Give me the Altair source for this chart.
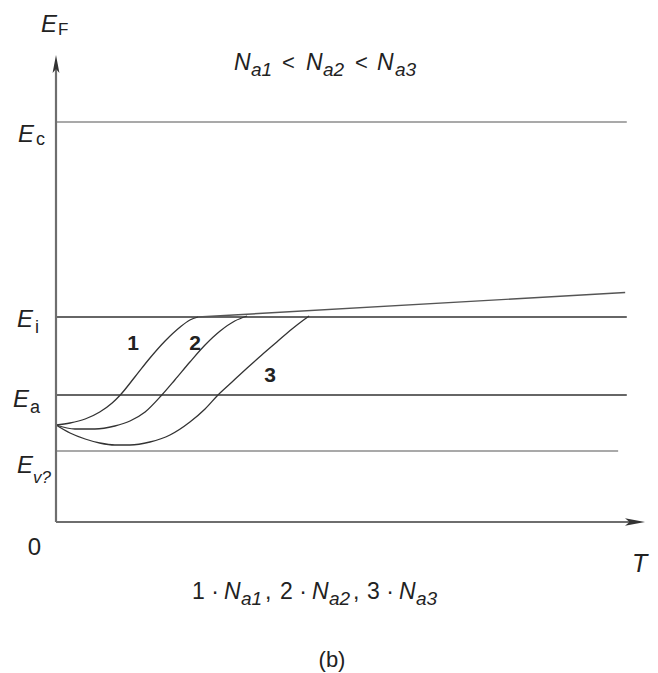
import altair as alt
import pandas as pd

# ---------------- data (T and E in arbitrary units) ----------------
curve1_T = [0, 0.26, 0.54, 0.81, 1.04, 1.19, 1.46, 1.74, 2.02, 2.30, 2.48, 2.63]
curve1_E = [1.94, 1.98, 2.06, 2.20, 2.38, 2.54, 2.90, 3.28, 3.62, 3.90, 4.04, 4.10]

curve2_T = [0, 0.35, 0.72, 1.09, 1.37, 1.65, 1.96, 2.20, 2.48, 2.76, 3.04, 3.31, 3.54]
curve2_E = [1.94, 1.86, 1.86, 1.92, 2.02, 2.20, 2.54, 2.84, 3.20, 3.54, 3.82, 4.02, 4.12]

curve3_T = [0, 0.26, 0.54, 0.81, 1.09, 1.37, 1.74, 2.11, 2.48, 2.76, 3.00, 3.26, 3.54,
            3.81, 4.09, 4.37, 4.56, 4.69]
curve3_E = [1.94, 1.78, 1.66, 1.58, 1.54, 1.54, 1.60, 1.74, 2.00, 2.26, 2.54, 2.80, 3.08,
            3.34, 3.60, 3.86, 4.02, 4.12]

high_T_T = [2.63, 10.54]
high_T_E = [4.10, 4.59]

level_names = ["Ec", "Ei", "Ea", "Ev"]
level_E = [8.0, 4.1, 2.54, 1.42]
level_T_end = [10.57, 10.57, 10.57, 10.41]
level_colors = ["#8c8c8c", "#333333", "#333333", "#8c8c8c"]

curve_labels = ["1", "2", "3"]

# ---------------- layout ----------------
X_DOM = [0, 11]
Y_DOM = [-2.8, 10.2]
W, H = 594, 650
LEFT, TOP = 48, 4
FONT = "Liberation Sans"
INK = "#222222"

xs = alt.Scale(domain=X_DOM, nice=False, zero=False)
ys = alt.Scale(domain=Y_DOM, nice=False, zero=False)


def px2T(px):
    return X_DOM[0] + (px - 8 - LEFT) * (X_DOM[1] - X_DOM[0]) / W


def py2E(py):
    return Y_DOM[1] - (py - 8 - TOP) * (Y_DOM[1] - Y_DOM[0]) / H


def X(**kw):
    return alt.X("T:Q", scale=xs, axis=None, **kw)


def Y(**kw):
    return alt.Y("E:Q", scale=ys, axis=None, **kw)


# curves
rows = []
for name, Ts, Es in [("1", curve1_T, curve1_E), ("2", curve2_T, curve2_E), ("3", curve3_T, curve3_E)]:
    for i, (t, e) in enumerate(zip(Ts, Es)):
        rows.append({"curve": name, "T": t, "E": e, "o": i})
curves_df = pd.DataFrame(rows)

curves = alt.Chart(curves_df).mark_line(
    color="#333333", strokeWidth=1.3, interpolate="monotone"
).encode(x=X(), y=Y(), detail="curve:N", order="o:Q")

high_df = pd.DataFrame({"T": high_T_T, "E": high_T_E})
high = alt.Chart(high_df).mark_line(color="#555555", strokeWidth=1.4).encode(x=X(), y=Y())

levels_df = pd.DataFrame({"name": level_names, "E": level_E, "T": [0] * 4,
                          "T2": level_T_end, "c": level_colors})
levels = alt.Chart(levels_df).mark_rule(strokeWidth=1.6).encode(
    x=X(), x2="T2:Q", y=Y(), color=alt.Color("c:N", scale=None)
)

# axes with arrows
y_tip = py2E(64)
x_tip = px2T(635)
axes_df = pd.DataFrame({"T": [0, 0], "E": [0, 0], "T2": [0, x_tip], "E2": [y_tip, 0]})
axes = alt.Chart(axes_df).mark_rule(color="#6e6e6e", strokeWidth=2.2).encode(
    x=X(), y=Y(), x2="T2:Q", y2="E2:Q"
)
arrow_up = alt.Chart(pd.DataFrame({"T": [0], "E": [y_tip]})).mark_point(
    shape="M0,-1L0.38,1L0,0.55L-0.38,1Z", size=324, filled=True, color="#333333", opacity=1
).encode(x=X(), y=Y())
arrow_right = alt.Chart(pd.DataFrame({"T": [x_tip], "E": [0]})).mark_point(
    shape="M1,0L-1,0.38L-0.55,0L-1,-0.38Z", size=400, filled=True, color="#333333", opacity=1
).encode(x=X(), y=Y())

# text pieces: text, left/centre px, baseline px, size, style, weight, align
pieces = [
    ("E", 41, 32, 24, "italic", "normal", "left"),
    ("F", 58, 35, 17, "normal", "normal", "left"),
    ("E", 18, 142, 24, "italic", "normal", "left"),
    ("c", 36, 145, 18, "normal", "normal", "left"),
    ("E", 17, 327, 24, "italic", "normal", "left"),
    ("i", 35, 333, 18, "normal", "normal", "left"),
    ("E", 13, 407, 24, "italic", "normal", "left"),
    ("a", 30, 413, 18, "normal", "normal", "left"),
    ("E", 17, 473, 24, "italic", "normal", "left"),
    ("v?", 33, 483, 17, "italic", "normal", "left"),
    ("0", 34.5, 555, 24, "normal", "normal", "center"),
    ("T", 632, 572, 25, "italic", "normal", "left"),
    (curve_labels[0], 133, 350, 21, "normal", "bold", "center"),
    (curve_labels[1], 195, 350, 21, "normal", "bold", "center"),
    (curve_labels[2], 270, 382, 21, "normal", "bold", "center"),
    # title
    ("N", 234, 70, 23, "italic", "normal", "left"),
    ("a1", 251, 76, 19, "italic", "normal", "left"),
    ("<", 282, 70, 22, "normal", "normal", "left"),
    ("N", 306, 70, 23, "italic", "normal", "left"),
    ("a2", 323, 76, 19, "italic", "normal", "left"),
    ("<", 355, 70, 22, "normal", "normal", "left"),
    ("N", 377, 70, 23, "italic", "normal", "left"),
    ("a3", 395, 76, 19, "italic", "normal", "left"),
    # bottom legend
    ("1 ·", 192, 599, 23, "normal", "normal", "left"),
    ("N", 224, 599, 23, "italic", "normal", "left"),
    ("a1", 241, 605, 19, "italic", "normal", "left"),
    (",", 265, 599, 23, "normal", "normal", "left"),
    ("2 ·", 280, 599, 23, "normal", "normal", "left"),
    ("N", 312, 599, 23, "italic", "normal", "left"),
    ("a2", 329, 605, 19, "italic", "normal", "left"),
    (",", 353, 599, 23, "normal", "normal", "left"),
    ("3 ·", 367, 599, 23, "normal", "normal", "left"),
    ("N", 399, 599, 23, "italic", "normal", "left"),
    ("a3", 416, 605, 19, "italic", "normal", "left"),
    ("(b)", 332, 667, 22, "normal", "normal", "center"),
]

text_layers = []
for align in ["left", "center"]:
    for style in ["normal", "italic"]:
        for weight in ["normal", "bold"]:
            for size in sorted(set(p[3] for p in pieces)):
                sel = [p for p in pieces if p[6] == align and p[4] == style
                       and p[5] == weight and p[3] == size]
                if not sel:
                    continue
                df = pd.DataFrame({"label": [p[0] for p in sel],
                                   "T": [px2T(p[1]) for p in sel],
                                   "E": [py2E(p[2]) for p in sel]})
                text_layers.append(
                    alt.Chart(df).mark_text(
                        font=FONT, fontSize=size, fontStyle=style, fontWeight=weight,
                        align=align, baseline="alphabetic", color=INK
                    ).encode(x=X(), y=Y(), text="label:N")
                )

chart = alt.layer(levels, high, curves, axes, arrow_up, arrow_right, *text_layers).properties(
    width=W, height=H,
    autosize=alt.AutoSizeParams(type="none"),
    padding={"left": LEFT, "top": TOP, "right": 0, "bottom": 14},
).configure(background="white").configure_view(strokeWidth=0, stroke="transparent")

chart.save("out.html", embed_options={"renderer": "svg", "actions": False})
